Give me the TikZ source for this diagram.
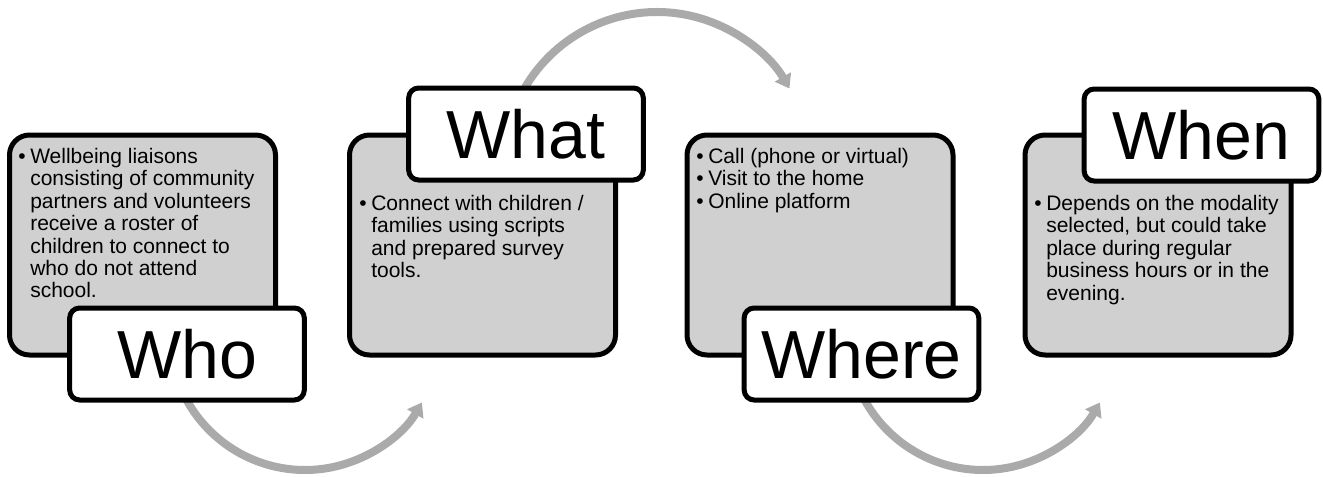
\documentclass[tikz,border=0pt]{standalone}
\usepackage{fontspec}
\setmainfont{Liberation Sans}
\usetikzlibrary{arrows.meta}
\definecolor{boxgray}{RGB}{208,208,208}
\definecolor{arrgray}{RGB}{170,170,170}
\newcommand\bitem{\makebox[9pt][l]{\textbullet}}
\newcommand\bindent{\hspace*{9pt}}
\begin{document}
\begin{tikzpicture}[x=0.75pt,y=-0.75pt,
  card/.style={draw=black, line width=3.75pt, fill=boxgray, rounded corners=15pt,
    minimum width=199.5pt, minimum height=165pt, inner sep=0pt},
  tag/.style={draw=black, line width=3.75pt, fill=white, rounded corners=7.5pt,
    minimum width=176pt, minimum height=69pt, inner sep=0pt,
    font=\fontsize{51}{51}\selectfont},
  body/.style={anchor=north west, inner sep=0pt, align=left,
    font=\fontsize{15.75}{16.8}\selectfont},
  flow/.style={draw=arrgray, line width=6pt, -{Triangle[width=13.5pt,length=10pt]}}]
\useasboundingbox (0,0) rectangle (1323,476);

% arrows (behind the boxes)
\coordinate (a1s) at (174.6,369.9);
\coordinate (a2s) at (513.2,112.7);
\coordinate (a3s) at (852.6,369.9);
\draw[flow] (a1s) arc[start angle=165, end angle=30, radius=135];
\draw[flow] (a2s) arc[start angle=200, end angle=330, radius=153];
\draw[flow] (a3s) arc[start angle=165, end angle=30, radius=135];

% cards
\node[card] (c1) at (142.5,245) {};
\node[card] (c2) at (482.5,245) {};
\node[card] (c3) at (820,245) {};
\node[card] (c4) at (1158,245) {};

% card texts
\node[body] (t1) at (18,148) {\bitem Wellbeing liaisons\\
\bindent consisting of community\\
\bindent partners and volunteers\\
\bindent receive a roster of\\
\bindent children to connect to\\
\bindent who do not attend\\
\bindent school.};
\node[body] (t2) at (359,195) {\bitem Connect with children /\\
\bindent families using scripts\\
\bindent and prepared survey\\
\bindent tools.};
\node[body] (t3) at (696,148) {\bitem Call (phone or virtual)\\
\bitem Visit to the home\\
\bitem Online platform};
\node[body] (t4) at (1034,195) {\bitem Depends on the modality\\
\bindent selected, but could take\\
\bindent place during regular\\
\bindent business hours or in the\\
\bindent evening.};

% tags
\node[tag] (who) at (187,354) {Who};
\node[tag] (what) at (526,134) {What};
\node[tag] (where) at (861.5,354) {Where};
\node[tag] (when) at (1201.5,135) {When};
\end{tikzpicture}
\end{document}
